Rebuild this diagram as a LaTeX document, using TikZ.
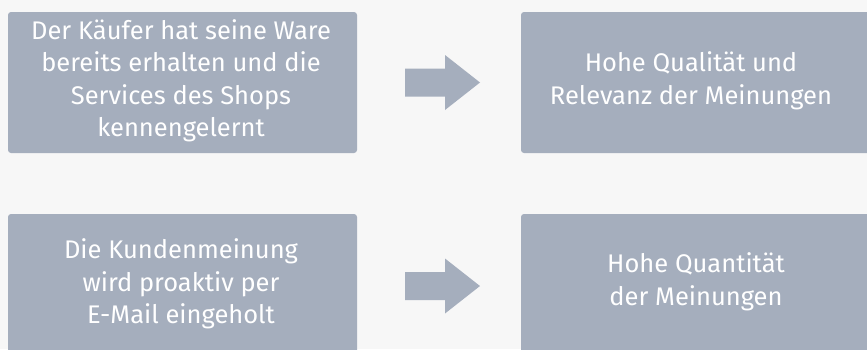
\documentclass[tikz,border=0pt]{standalone}
\usepackage{fontspec}
\setmainfont{Fira Sans}
\definecolor{bg}{HTML}{F7F7F7}
\definecolor{boxc}{HTML}{A5AEBD}
\tikzset{
  box/.style={fill=boxc, rounded corners=3pt, draw=none},
  lbl/.style={text=white, align=center, font=\fontsize{25.5}{32.5}\selectfont, inner sep=0pt},
  blockarrow/.style={fill=boxc, draw=none},
}
\begin{document}
\begin{tikzpicture}[x=1pt,y=-1pt]
\fill[bg] (0,0) rectangle (867,349);
\useasboundingbox (0,0) rectangle (867,349);
\begin{scope}
\clip (0,0) rectangle (867,349);
\fill[box] (8,12) rectangle (357,153);
\fill[box] (521,12) rectangle (872,153);
\fill[box] (8,214) rectangle (357,355);
\fill[box] (521,214) rectangle (872,355);
\end{scope}
\node[lbl] (a) at (181,81) {Der Käufer hat seine Ware\\bereits erhalten und die\\Services des Shops\\kennengelernt};
\node[lbl] (b) at (691,81) {Hohe Qualität und\\Relevanz der Meinungen};
\node[lbl] (c) at (181,284) {Die Kundenmeinung\\wird proaktiv per\\E-Mail eingeholt};
\node[lbl] (d) at (696,282) {Hohe Quantität\\der Meinungen};
\coordinate (a1) at (405,82.5);
\coordinate (c1) at (405,286);
\fill[blockarrow] (a1) ++(0,-14) -- ++(40,0) -- ++(0,-13.5) -- ++(35,27.5) -- ++(-35,27.5) -- ++(0,-13.5) -- ++(-40,0) -- cycle;
\fill[blockarrow] (c1) ++(0,-14) -- ++(40,0) -- ++(0,-13.5) -- ++(35,27.5) -- ++(-35,27.5) -- ++(0,-13.5) -- ++(-40,0) -- cycle;
\end{tikzpicture}
\end{document}
